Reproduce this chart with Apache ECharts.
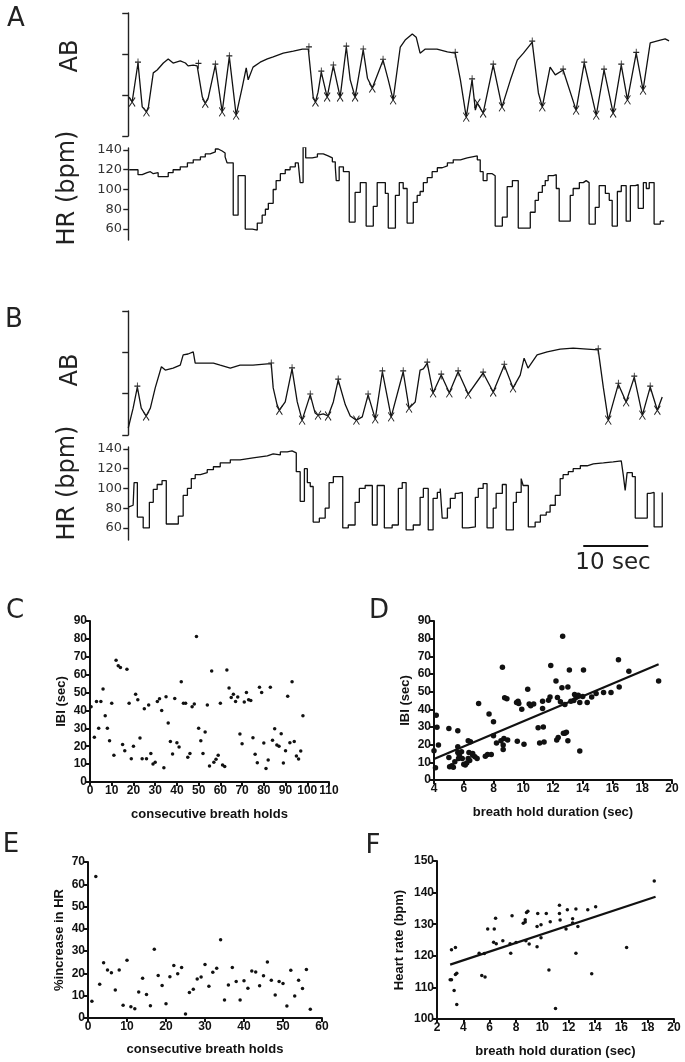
<!DOCTYPE html>
<html><head><meta charset="utf-8">
<script src="https://cdn.jsdelivr.net/npm/echarts@6/dist/echarts.min.js"></script>
<style>html,body{margin:0;padding:0;background:#fff}#c{width:685px;height:1062px}</style>
</head><body><div id="c"></div><script>
// ---------- Panel A traces (time in sec, AB in arbitrary units, HR in bpm) ----------
const abTraceA = [[0.15,0.95],[0.6,0.83],[1.5,1.78],[2.15,0.71],[2.8,0.59],[3.1,0.71],[3.85,1.54],[4.45,1.61],[5.4,1.78],[6.15,1.88],[6.9,1.78],[8.0,1.83],[8.8,1.78],[9.2,1.71],[10.0,1.73],[10.6,1.71],[10.8,1.75],[11.4,0.95],[11.85,0.8],[12.3,0.93],[13.4,1.73],[14.45,0.59],[15.55,1.93],[16.6,0.51],[17.55,1.2],[18.15,1.66],[18.45,1.37],[19.2,1.68],[20.3,1.8],[21.4,1.88],[22.3,1.93],[23.85,2.02],[25.4,2.07],[26.8,2.12],[27.7,2.12],[28.45,0.95],[28.8,0.83],[29.2,1.07],[29.7,1.56],[30.6,0.95],[31.55,1.71],[32.6,0.95],[33.55,2.17],[34.15,1.37],[34.9,0.95],[36.15,2.1],[36.8,1.41],[37.55,1.17],[39.2,1.85],[40.0,1.37],[40.75,0.88],[41.85,2.17],[42.6,2.34],[43.7,2.49],[44.3,2.41],[44.9,2.02],[45.7,2.12],[47.5,2.12],[49.1,2.05],[50.3,2.02],[51.1,1.37],[52.0,0.46],[52.9,1.37],[53.4,0.63],[53.7,0.8],[54.6,0.56],[56.15,1.73],[57.5,0.71],[58.8,1.37],[59.85,1.85],[60.8,2.02],[62.15,2.29],[63.1,1.05],[63.7,0.71],[64.9,1.68],[65.7,1.49],[66.9,1.61],[68.9,0.63],[70.15,1.78],[72.0,0.51],[73.2,1.61],[74.6,0.56],[75.85,1.73],[76.8,0.88],[78.15,2.02],[79.2,1.12],[80.3,2.27],[81.85,2.34],[82.6,2.37],[83.2,2.32]];
const abPeaksA = [[1.5,1.78],[10.8,1.75],[13.4,1.73],[15.55,1.93],[27.8,2.15],[29.7,1.56],[31.55,1.71],[33.55,2.17],[36.15,2.1],[39.2,1.85],[50.3,2.02],[52.9,1.37],[56.15,1.73],[62.15,2.29],[66.9,1.61],[70.15,1.78],[73.2,1.61],[75.85,1.73],[78.15,2.02]];
const abTroughsA = [[0.6,0.83],[2.8,0.59],[11.85,0.8],[14.45,0.59],[16.6,0.51],[28.8,0.83],[30.6,0.95],[32.6,0.95],[34.9,0.95],[37.55,1.17],[40.75,0.88],[52.0,0.46],[53.7,0.8],[54.6,0.56],[57.5,0.71],[63.7,0.71],[68.9,0.63],[72.0,0.51],[74.6,0.56],[76.8,0.88],[79.2,1.12]];
const hrTraceA = [[0.15,120],[1.5,115],[2.15,117],[2.9,118],[3.4,116],[3.85,117],[4.6,113],[6.15,117],[6.9,120],[8.0,123],[9.1,127],[10.0,130],[11.1,133],[11.85,136],[12.6,138],[13.4,141],[13.85,139],[14.45,137],[14.9,133],[15.2,127],[16.15,74],[16.9,114],[18.0,60],[19.1,59],[19.85,66],[20.6,74],[21.1,80],[21.55,86],[22.3,100],[22.75,109],[23.4,116],[24.15,120],[24.9,123],[25.7,127],[26.15,129],[26.45,107],[26.9,143],[27.3,132],[28.3,133],[29.1,136],[30.0,134],[30.75,132],[31.4,128],[31.85,123],[32.0,109],[32.45,123],[33.1,118],[34.0,67],[34.9,97],[35.7,107],[36.6,63],[37.7,83],[38.3,107],[39.55,96],[40.0,61],[41.1,94],[41.7,107],[42.3,101],[42.9,66],[43.85,87],[44.45,94],[44.9,98],[45.4,107],[46.0,112],[46.75,118],[47.55,122],[48.3,124],[49.1,127],[50.0,130],[51.1,132],[52.15,134],[53.7,130],[54.15,118],[54.6,109],[55.2,116],[56.0,114],[56.45,63],[57.55,72],[58.3,103],[59.1,109],[60.0,61],[61.85,77],[62.6,89],[63.1,97],[63.7,104],[64.15,109],[64.6,114],[65.4,115],[65.85,101],[66.3,68],[68.0,94],[68.45,101],[69.4,107],[70.0,109],[70.45,107],[70.9,65],[71.85,82],[72.45,104],[73.4,96],[74.0,89],[74.45,63],[75.25,98],[75.85,104],[76.6,68],[77.25,104],[78.0,105],[78.45,81],[79.25,107],[79.7,101],[80.15,107],[80.9,65],[81.85,68],[82.45,68]];

// ---------- Panel B traces ----------
const abTraceB = [[0,0.17],[0.15,0.19],[0.75,0.65],[1.4,1.16],[2.0,0.65],[2.75,0.46],[3.4,0.65],[4.15,1.14],[5.1,1.65],[5.7,1.57],[6.9,1.62],[8.0,1.69],[8.45,1.94],[9.2,1.96],[10.0,2.01],[10.3,1.74],[11.1,1.74],[13.1,1.74],[14.15,1.69],[15.7,1.62],[17.2,1.69],[19.2,1.69],[21.4,1.72],[22.0,1.72],[22.3,1.14],[22.9,0.73],[23.25,0.6],[24.15,0.8],[25.2,1.6],[26.0,0.8],[26.75,0.36],[28.0,0.97],[28.75,0.53],[29.2,0.48],[30.0,0.51],[30.75,0.46],[31.55,0.8],[32.3,1.33],[33.4,0.73],[34.15,0.46],[35.1,0.36],[36.0,0.44],[36.9,0.97],[38.0,0.39],[39.1,1.53],[40.45,0.44],[42.3,1.53],[43.2,0.65],[44.15,0.8],[44.9,1.57],[45.4,1.6],[46.0,1.74],[46.9,1.02],[48.15,1.45],[49.4,1.02],[50.75,1.53],[52.3,0.99],[54.6,1.5],[56.15,1.04],[57.85,1.69],[59.2,1.14],[60.3,1.45],[60.9,1.86],[61.5,1.62],[62.9,1.94],[64.45,2.01],[66.45,2.08],[68.45,2.1],[70.6,2.08],[72.3,2.06],[73.1,1.14],[73.85,0.36],[75.4,1.23],[76.6,0.8],[77.85,1.4],[79.1,0.48],[80.3,1.16],[81.4,0.6],[82.15,0.92]];
const abPeaksB = [[1.4,1.16],[22.0,1.72],[25.2,1.6],[28.0,0.97],[32.3,1.33],[36.9,0.97],[39.1,1.53],[42.3,1.53],[46.0,1.74],[48.15,1.45],[50.75,1.53],[54.6,1.5],[57.85,1.69],[72.3,2.06],[75.4,1.23],[77.85,1.4],[80.3,1.16]];
const abTroughsB = [[2.75,0.46],[23.25,0.6],[26.75,0.36],[29.2,0.48],[30.75,0.46],[35.1,0.36],[38.0,0.39],[40.45,0.44],[43.2,0.65],[46.9,1.02],[49.4,1.02],[52.3,0.99],[56.15,1.04],[59.2,1.14],[73.85,0.36],[76.6,0.8],[79.1,0.48],[81.4,0.6]];
const hrTraceB = [[0,81],[0.3,83],[0.75,84],[0.9,106],[1.4,71],[2.3,60],[3.25,86],[3.85,99],[4.45,104],[5.2,108],[5.85,64],[7.7,72],[8.45,93],[9.1,100],[9.7,110],[10.3,114],[11.1,116],[12.15,119],[13.1,122],[14.15,126],[15.7,129],[17.2,131],[19.2,133],[21.4,135],[22.3,134],[23.4,137],[24.45,138],[25.2,136],[25.85,117],[26.45,87],[27.1,120],[27.55,106],[28.0,102],[28.45,66],[29.4,70],[30.3,80],[30.9,106],[31.55,112],[33.0,60],[33.85,63],[34.9,86],[35.55,100],[36.45,103],[37.55,63],[38.3,103],[39.4,60],[40.6,63],[41.55,100],[42.15,106],[42.75,58],[43.85,63],[44.9,91],[45.4,100],[46.15,58],[46.9,90],[47.55,96],[48.0,100],[48.3,70],[49.1,80],[49.55,90],[50.3,95],[50.75,96],[51.4,60],[52.3,61],[53.4,91],[53.85,100],[54.6,105],[55.2,60],[56.15,80],[56.6,95],[57.55,104],[58.15,58],[59.25,86],[59.7,96],[60.45,110],[60.75,103],[61.55,61],[62.6,66],[63.4,73],[64.3,76],[64.9,83],[65.7,93],[66.45,110],[66.9,114],[67.7,117],[68.45,120],[69.55,123],[70.6,125],[71.55,126],[73.1,127],[74.6,128],[75.85,127],[76.15,114],[76.45,98],[76.75,116],[77.55,112],[78.0,70],[79.85,95],[80.3,96],[80.9,61],[82.15,96]];
const scaleBar = [[70,0.5],[80,0.5]];
const hrTicks = [60,80,100,120,140];

// ---------- Panel C: IBI vs consecutive breath holds ----------
const ibiByHold = [[0.5,42],[2,25],[3,45],[4,30],[5,45],[6,52],[7,37],[8,30],[9,23],[10,44],[11,15],[12,68],[13,65],[14,64],[15,21],[16,17.5],[17,63],[18,44],[19,13],[20,20],[21,49],[22,46],[23,24.6],[24,13],[25,41],[26,13],[27,43],[28,16],[29,10],[30,11],[31,45],[32,46.5],[33,40],[34,8],[35,47.7],[36,33],[37,22.7],[38,15.6],[39,46.7],[40,22],[41,19.5],[42,56],[43,44],[44,44],[45,13.8],[46,16],[47,42],[48,43.6],[49,81.4],[50,30],[51,23],[52,16],[53,28],[54,43],[55,9],[56,62],[57,11],[58,12.7],[59,15],[60,44],[61,9.5],[62,8.6],[63,62.6],[64,52.5],[65,47.3],[66,49],[67,45],[68,47.5],[69,26.8],[70,21.4],[71,44.7],[72,50],[73,46],[74,45.6],[75,24.8],[76,15.5],[77,10.8],[78,53],[79,50],[80,21.8],[81,7.6],[82,12.3],[83,53],[84,23.3],[85,29.8],[86,20.7],[87,20],[88,27],[89,10.6],[90,17.5],[91,48],[92,22],[93,56],[94,22.7],[95,14.5],[96,12.8],[97,17.3],[98,37]];

// ---------- Panel D: IBI vs breath hold duration ----------
const ibiByDuration = [[4.0,16.6],[4.1,7],[4.15,36.7],[4.2,29.8],[4.3,19.8],[5.0,29.2],[5.0,12.8],[5.05,7.5],[5.2,8.1],[5.3,7.2],[5.4,10.4],[5.6,27.9],[5.6,18.8],[5.6,15.6],[5.65,12.2],[5.7,14],[5.85,16],[5.9,12.2],[6.0,8.9],[6.1,8.5],[6.2,9.6],[6.3,12.2],[6.3,22.2],[6.35,15.6],[6.4,11.1],[6.45,21.7],[6.6,15],[6.6,14],[6.75,13.2],[6.9,12.2],[7.0,43.3],[7.45,13.4],[7.6,14.5],[7.7,37.3],[7.85,14.5],[8.0,33],[8.0,25],[8.2,21],[8.5,22.2],[8.6,63.8],[8.65,17.3],[8.65,19.8],[8.7,23.5],[8.75,46.5],[8.9,46],[8.95,22.6],[9.55,43.9],[9.65,44.6],[9.6,22],[9.7,43.3],[9.9,40],[10.05,20.3],[10.3,51.4],[10.4,43],[10.5,42],[10.7,43],[11.0,29.6],[11.1,21],[11.3,44.6],[11.3,40.5],[11.35,30],[11.4,21.5],[11.7,45.2],[11.8,47],[11.85,64.8],[12.2,56],[12.3,46.7],[12.25,22.6],[12.35,24],[12.5,44.3],[12.6,52.2],[12.65,81.4],[12.7,26.4],[12.8,26.4],[12.8,42.7],[12.9,27],[13.0,22.2],[13.0,52.7],[13.1,62.3],[13.2,44.6],[13.4,45],[13.45,48.4],[13.55,47],[13.7,48],[13.8,43.9],[13.8,16.4],[14.0,47.3],[14.05,62.3],[14.3,43.9],[14.6,47],[14.9,49],[15.4,49.5],[15.9,49.5],[16.4,68],[16.45,52.7],[17.1,61.6],[19.1,56.1]];
const fitD = [[4,11.9],[19.1,65.5]];

// ---------- Panel E: % increase in HR vs consecutive breath holds ----------
const hrIncreaseByHold = [[1,7.5],[2,63.5],[3,15.2],[4,24.8],[5,21.5],[6,20.3],[7,12.6],[8,21.5],[9,5.7],[10,25.9],[11,5.1],[12,4.2],[13,11.7],[14,17.8],[15,10.6],[16,5.5],[17,30.9],[18,19.1],[19,14.6],[20,6.4],[21,18.5],[22,23.6],[23,19.9],[24,22.7],[25,1.8],[26,11.4],[27,12.9],[28,17.5],[29,18.4],[30,24],[31,14.2],[32,20.5],[33,22.3],[34,35.1],[35,8.1],[36,14.8],[37,22.7],[38,16.4],[39,8.1],[40,16.7],[41,13.4],[42,21.1],[43,20.6],[44,14.5],[45,19],[46,25.1],[47,16.9],[48,10.3],[49,16.4],[50,15.5],[51,5.4],[52,21.4],[53,9.9],[54,16.9],[55,13.2],[56,21.8],[57,3.9]];

// ---------- Panel F: heart rate vs breath hold duration ----------
const hrByDuration = [[3.0,112.4],[3.1,112.4],[3.1,121.9],[3.3,109],[3.4,122.6],[3.4,114.1],[3.5,114.5],[3.5,104.6],[5.2,120.8],[5.4,113.8],[5.6,120.7],[5.65,113.3],[5.85,128.5],[6.3,124.3],[6.35,128.5],[6.45,131.9],[6.5,123.8],[7.0,124.8],[7.55,123.8],[7.6,120.8],[7.7,132.7],[8.0,124.2],[8.55,130.3],[8.7,131.4],[8.7,130.7],[8.75,124.8],[8.8,133.7],[8.9,134.1],[9.0,123.7],[9.6,122.9],[9.6,129.3],[9.65,133.4],[9.9,129.8],[9.9,125.7],[10.3,133.4],[10.5,115.5],[10.6,130.8],[11.0,103.3],[11.3,136],[11.3,133.4],[11.35,131.3],[11.8,128.5],[11.9,134.6],[12.3,131.7],[12.3,130.4],[12.55,134.8],[12.55,120.8],[12.7,129.3],[13.45,134.6],[13.75,114.3],[14.05,135.5],[16.4,122.6],[18.5,143.7]];
const fitF = [[3.0,117.2],[18.6,138.7]];

// ---------------- build chart ----------------
const traceFont = 'DejaVu Sans';
const sciFont = 'Liberation Sans';
const PLUS = 'path://M4,0L4,10M1,4L7,4';
const CROSS = 'path://M0,0L6,9M6,0L0,9';

const grids = [
  {left:125, top:13,  width:546, height:123},   // 0 A AB
  {left:125, top:148, width:546, height:92},    // 1 A HR
  {left:125, top:311, width:546, height:124},   // 2 B AB
  {left:125, top:447, width:546, height:93},    // 3 B HR
  {left:125, top:542, width:546, height:8},     // 4 scale bar
  {left:90,  top:621, width:239, height:161},   // 5 C
  {left:434, top:621, width:238, height:159},   // 6 D
  {left:88,  top:862, width:234, height:156},   // 7 E
  {left:437, top:861, width:237, height:158}    // 8 F
];

function traceX(g){ return {type:'value', gridIndex:g, min:-0.5, max:83.5, show:false}; }
function abY(g){ return {type:'value', gridIndex:g, min:0, max:3, interval:1,
  axisLine:{show:true, lineStyle:{color:'#222', width:1.4}},
  axisTick:{show:true, length:6, lineStyle:{color:'#222', width:1.4}},
  axisLabel:{show:false}, splitLine:{show:false}}; }
function hrY(g, mn, mx){ return {type:'value', gridIndex:g, min:mn, max:mx,
  axisLine:{show:true, lineStyle:{color:'#222', width:1.4}},
  axisTick:{show:true, length:5, customValues:hrTicks, lineStyle:{color:'#222', width:1.4}},
  axisLabel:{show:true, customValues:hrTicks, fontFamily:traceFont, fontSize:13, color:'#333', margin:3},
  splitLine:{show:false}}; }
function sciAxis(g, mn, mx, iv, name, gap){ return {type:'value', gridIndex:g, min:mn, max:mx, interval:iv,
  name:name, nameLocation:'middle', nameGap:gap,
  nameTextStyle:{fontFamily:sciFont, fontWeight:'bold', fontSize:13, color:'#111'},
  axisLine:{show:true, onZero:false, lineStyle:{color:'#111', width:2}},
  axisTick:{show:true, length:4, lineStyle:{color:'#111', width:2}},
  axisLabel:{fontFamily:sciFont, fontWeight:'bold', fontSize:12, color:'#111', margin:3},
  splitLine:{show:false}}; }

const xAxes = [traceX(0), traceX(1), traceX(2), traceX(3), traceX(4),
  sciAxis(5, 0, 110, 10, 'consecutive breath holds', 26),
  sciAxis(6, 4, 20, 2, 'breath hold duration (sec)', 26),
  sciAxis(7, 0, 60, 10, 'consecutive breath holds', 25),
  sciAxis(8, 2, 20, 2, 'breath hold duration (sec)', 26)];
const yAxes = [abY(0), hrY(1, 48.9, 142), abY(2), hrY(3, 47.8, 142),
  {type:'value', gridIndex:4, min:0, max:1, show:false},
  sciAxis(5, 0, 90, 10, 'IBI (sec)', 22),
  sciAxis(6, 0, 90, 10, 'IBI (sec)', 22),
  sciAxis(7, 0, 70, 10, '%increase in HR', 22),
  sciAxis(8, 100, 150, 10, 'Heart rate (bpm)', 31)];

function traceLine(i, data, step){ return {type:'line', xAxisIndex:i, yAxisIndex:i, data:data, showSymbol:false, step:step||false,
  lineStyle:{color:'#111', width:1.3}, silent:true}; }
function markers(i, data, sym, size){ return {type:'scatter', xAxisIndex:i, yAxisIndex:i, data:data, symbol:sym, symbolSize:size,
  itemStyle:{color:'rgba(0,0,0,0)', borderColor:'#222', borderWidth:1, opacity:1}, z:3, silent:true}; }
function dots(i, data, size){ return {type:'scatter', xAxisIndex:i, yAxisIndex:i, data:data, symbolSize:size,
  itemStyle:{color:'#111', opacity:1}, silent:true}; }
function fit(i, data){ return {type:'line', xAxisIndex:i, yAxisIndex:i, data:data, showSymbol:false,
  lineStyle:{color:'#111', width:2.2}, silent:true}; }

const series = [
  traceLine(0, abTraceA), markers(0, abPeaksA, PLUS, [6,9]), markers(0, abTroughsA, CROSS, [6,9]),
  traceLine(1, hrTraceA, 'end'),
  traceLine(2, abTraceB), markers(2, abPeaksB, PLUS, [6,9]), markers(2, abTroughsB, CROSS, [6,9]),
  traceLine(3, hrTraceB, 'end'),
  {type:'line', xAxisIndex:4, yAxisIndex:4, data:scaleBar, showSymbol:false, lineStyle:{color:'#111', width:2}, silent:true},
  dots(5, ibiByHold, 3.5),
  dots(6, ibiByDuration, 5.5), fit(6, fitD),
  dots(7, hrIncreaseByHold, 3.5),
  dots(8, hrByDuration, 3.5), fit(8, fitF)
];

function txt(s, x, y, size, rot){ return {type:'text', x:x, y:y, rotation:rot||0,
  style:{text:s, fontFamily:traceFont, fontSize:size, fill:'#222', align:'center', verticalAlign:'middle'}}; }
const graphics = [
  txt('A', 16, 19, 26), txt('B', 14, 320, 26), txt('C', 15, 611, 26), txt('D', 379, 611, 26), txt('E', 11, 845, 26), txt('F', 373, 846, 26),
  txt('AB', 71, 56, 24, Math.PI/2), txt('HR (bpm)', 68, 188, 24, Math.PI/2),
  txt('AB', 71, 370, 24, Math.PI/2), txt('HR (bpm)', 68, 483, 24, Math.PI/2),
  txt('10 sec', 613, 563, 23)
];

const chart = echarts.init(document.getElementById('c'), null, {renderer:'canvas'});
chart.setOption({animation:false, backgroundColor:'#fff', grid:grids, xAxis:xAxes, yAxis:yAxes, series:series, graphic:graphics});
</script></body></html>
